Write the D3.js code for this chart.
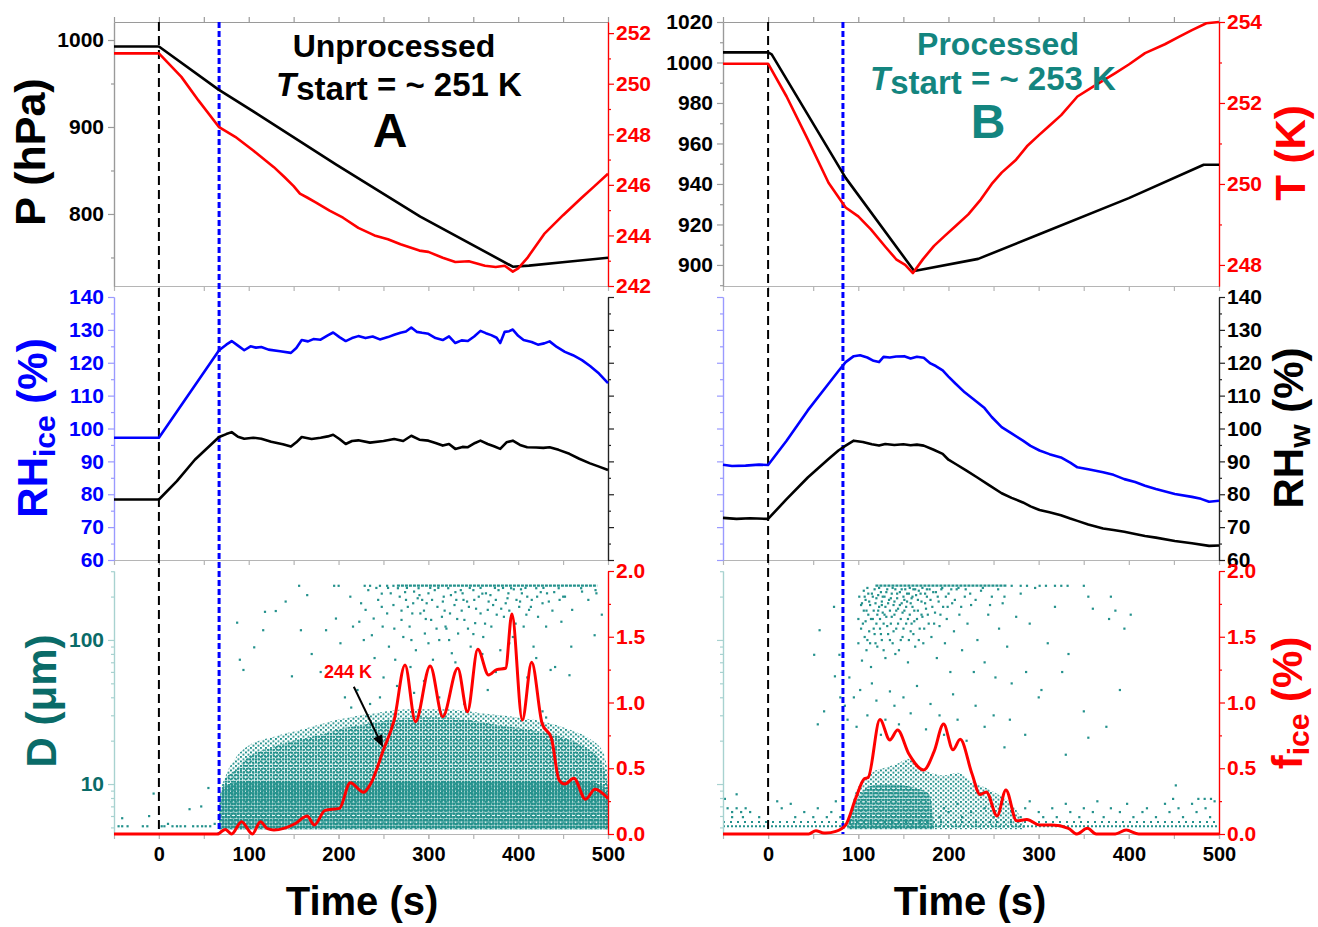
<!DOCTYPE html>
<html><head><meta charset="utf-8">
<script src="https://cdn.jsdelivr.net/npm/d3@7"></script>
<style>
body{margin:0;background:#fff}
svg{font-family:"Liberation Sans",Arial,sans-serif;font-weight:bold}
</style>
</head><body>
<svg id="c" width="1318" height="927"></svg>
<script>
// ---------------- DATA ----------------
const timeTicks=[-50,0,50,100,150,200,250,300,350,400,450,500];
const timeLabels=[0,100,200,300,400,500];
const pTicksA=[800,900,1000], pMinorA=[750,850,950];
const tTicksA=[242,244,246,248,250,252], tMinorA=[243,245,247,249,251];
const pTicksB=[900,920,940,960,980,1000,1020], pMinorB=[890,910,930,950,970,990,1010];
const tTicksB=[248,250,252,254], tMinorB=[249,251,253];
const rhTicks=[60,70,80,90,100,110,120,130,140], rhMinor=[65,75,85,95,105,115,125,135];
const dTicks=[10,100], dMinor=[5,6,7,8,9,20,30,40,50,60,70,80,90,200,300];
const fTicks=[0,0.5,1,1.5,2], fMinor=[0.25,0.75,1.25,1.75];

const startA=0, blueA=67, startB=0, blueB=83;

// Panel A (unprocessed)
const leftP=[[-50,992.5],[0,992.5],[66,943.3],[108.5,915.7],[197,857],[291,797],[394,739.4],[412,740.6],[455,745],[500,749.6]];
const leftT=[[-50,251.2],[0,251.2],[25,250.27],[44,249.34],[67,248.28],[85,247.9],[105,247.36],[128,246.7],[140,246.3],[150,245.95],[157,245.65],[165,245.5],[175,245.3],[190,244.98],[205,244.7],[222,244.3],[240,244.0],[255,243.85],[269,243.65],[290,243.4],[300,243.35],[316,243.12],[330,242.95],[345,242.98],[363,242.8],[375,242.75],[385,242.8],[394,242.57],[400,242.7],[410,243.1],[429,244.06],[450,244.8],[471,245.5],[485,245.95],[500,246.44]];
const leftRHice=[[-50,97.2],[0,97.2],[67,123.8],[75,125.5],[81,126.6],[88,125.2],[95,123.8],[102,125],[108,124.6],[114,124.8],[122,124],[135,123.5],[147,123],[153,124.5],[159,126.9],[166,126.5],[172,127.2],[180,127],[188,128.3],[194,129.2],[201,127.8],[208,126.6],[215,127.5],[222,128.1],[230,127.5],[238,128],[246,127.1],[255,127.8],[262,128.5],[269,129.1],[275,129.5],[281,130.7],[287,129.4],[293,129.1],[300,128.8],[308,127.5],[316,126.9],[323,128],[330,126],[337,126.8],[344,126.6],[351,128],[358,129.7],[364,129],[370,128.4],[376,127.6],[380,126],[385,129.4],[390,129.6],[394,130.1],[400,128.2],[406,126.9],[415,126.3],[422,125.5],[429,125.9],[435,126.5],[443,124.8],[452,123.3],[461,122.3],[471,120.8],[480,119],[490,116.7],[500,113.8]];
const leftRHw=[[-50,78.4],[0,78.4],[20,84],[40,90.5],[67,97.4],[75,98.3],[81,98.9],[88,97.5],[95,96.9],[105,97.2],[114,96.9],[125,96],[138,95.2],[147,94.5],[153,95.8],[159,97.4],[170,96.8],[180,97.2],[188,97.6],[194,98.1],[201,96.8],[208,95.3],[215,96.2],[222,96.4],[235,95.7],[250,96.2],[262,96.8],[272,96.2],[281,97.8],[290,96.6],[300,96.3],[308,95.6],[316,94.8],[323,95.3],[330,93.8],[338,94.4],[344,94.3],[352,95.6],[358,96.3],[366,95.3],[373,94.6],[380,93.8],[387,95.8],[394,96.3],[402,95],[410,94.3],[420,94.2],[428,94.1],[435,94.3],[445,93.5],[457,92.3],[468,90.8],[480,89.4],[490,88.4],[500,87.4]];
const leftF=[[-50,0],[66,0],[68,0.01],[74,0.035],[81,0],[92,0.094],[104,0],[113,0.094],[121,0.04],[128,0.03],[140,0.045],[152,0.08],[165,0.137],[173,0.068],[185,0.18],[201,0.195],[213,0.39],[228,0.317],[236,0.385],[250,0.64],[262,0.867],[274,1.285],[285.7,0.854],[302,1.278],[316,0.892],[332.7,1.26],[343.5,0.93],[355,1.404],[367,1.209],[376,1.25],[386,1.26],[393,1.673],[404.6,0.867],[415,1.306],[426.6,0.842],[437,0.728],[445.6,0.41],[452,0.38],[462,0.424],[475,0.264],[485.5,0.34],[500,0.27]];
// ice-particle size cloud (envelopes, D in um)
const leftDenseTop=[[67,5],[68,8.5],[78,10],[100,10.5],[470,10.5],[490,10],[500,8.5]];
const leftCloudTop=[[67,5],[68,8],[72,10.5],[85,12.5],[100,15.5],[120,17.5],[150,20],[180,22],[200,24],[230,26],[260,28],[290,29],[320,29],[350,27.5],[380,25.5],[410,24],[440,22],[460,20],[475,18],[490,15],[497,12],[500,9.5]];
const leftFringeTop=[[68,6],[72,10],[85,15],[100,18.5],[130,21.5],[160,24],[200,28],[240,31],[280,33],[320,33],[360,31],[400,29],[430,27],[460,23.5],[480,20.5],[495,16.5],[500,12]];
const leftTopRow=[[265,238],[488,238]];
const leftDots=[[156,238],[195,238],[200,238],[229,238],[235,238],[246,238],[254,238],[261,238],
[87,132],[90,73],[94,62],[106,89],[116,117],[118,157],[130,159],[141,185],[148,56],[158,117],[165,205],[170,80],[180,60],[186,117],[197,141],[202,95],[207,40],[213,200],[214,34],[216,124],[221,45],[223,134],[225,180],[230,162],[233,222],[235,36],[237,108],[239,141],[244,190],[246,40],[248,170],[249,124],[254,153],[256,90],[258,211],[261,175],[263,73],[266,229],[268,200],[270,138],[272,105],[275,190],[277,170],[279,124],[282,153],[284,217],[284,43],[286,85],[289,229],[291,153],[293,190],[296,111],[298,180],[300,211],[303,138],[305,73],[307,222],[310,170],[312,100],[312,40],[315,145],[317,200],[319,124],[322,229],[324,153],[326,81],[329,175],[331,190],[333,111],[336,222],[338,211],[340,138],[340,36],[343,185],[345,170],[347,90],[350,222],[352,131],[356,200],[358,153],[361,105],[364,211],[366,162],[366,45],[370,124],[372,175],[375,190],[378,222],[380,85],[384,145],[386,180],[389,211],[392,229],[394,105],[398,190],[401,170],[401,38],[404,211],[406,124],[410,200],[412,162],[417,90],[420,229],[422,145],[427,180],[427,32],[431,124],[431,29],[432,211],[436,62],[441,65],[445,229],[448,134],[450,200],[452,200],[457,57],[459,90],[460,162],[470,229],[471,217],[478,190],[485,108],[486,222],[487,211],[493,150],
[262,120],[274,215],[281,100],[288,195],[295,160],[302,230],[309,120],[316,185],[323,100],[330,215],[337,160],[344,120],[351,190],[358,230],[363,130],[369,205],[376,150],[383,230],[390,160],[397,130],[403,225],[409,150],[415,190],[425,215],[438,160],[446,190],
[270,160],[276,230],[283,180],[290,205],[297,140],[304,190],[311,230],[318,160],[325,205],[332,140],[339,190],[346,230],[353,165],[360,210],[367,185],[374,230],[381,165],[388,195],[395,225],[402,185],[408,230],[414,170],[421,200],[428,230],[434,185],[440,215],[255,230],[248,210],[242,230],[300,95],[330,70],[360,80],[390,95],[420,75],[350,110],[320,120],[280,65],[250,55],[265,48],[295,52],[375,60],[410,55],[240,75],[228,100],
[-45,5.1],[-41,5.8],[-41,5.1],[-35,5.1],[-18,5.1],[-13,5.1],[-11,6.0],[-6,8.6],[3,5.1],[6,5.1],[10,5.3],[15,5.1],[20,5.1],[24,5.1],[29,5.1],[34,6.7],[38,5.1],[43,5.1],[47,7.0],[48,5.1],[52,5.1],[55,9.4],[57,5.1],[62,5.3]];

// Panel B (processed)
const rightP=[[-50,1005],[0,1005],[4,1004],[86,943],[162,897],[233,903],[300,915],[400,933],[483,949.5],[500,949.5]];
const rightT=[[-50,252.97],[0,252.97],[20.5,252.16],[44,251.1],[67,250.03],[86,249.42],[100,249.2],[114,248.88],[130,248.45],[142,248.14],[152,248.0],[160.6,247.8],[172,248.15],[184,248.47],[195,248.7],[208,248.96],[222,249.25],[236,249.62],[248,250.0],[259,250.28],[275,250.6],[287,250.93],[300,251.2],[311,251.42],[325,251.7],[343,252.16],[360,252.4],[385,252.74],[400,252.95],[418,253.23],[440,253.45],[456,253.64],[470,253.8],[486,253.97],[500,254.0]];
const rightRHice=[[-50,89],[-40,88.6],[-25,88.7],[-10,89],[0,88.9],[20.5,96.3],[44,105.5],[67,113.6],[78,117.5],[86,120.2],[95,122],[102,122.3],[110,121.6],[117,120.6],[123,120.2],[128,121.8],[135,121.6],[142,121.9],[151,122],[158,121.3],[165,121.8],[172.6,121.5],[180,119.8],[186,119],[193.6,117.7],[200,115.8],[208,113.6],[218,111],[232,108],[240,106.2],[248,103.5],[259,100.4],[270,98.5],[282.6,96.3],[291,94.7],[301,93.3],[312,92.2],[324.7,91.2],[335,89.6],[343,88.2],[355,87.6],[371.5,86.7],[383,85.9],[395,84.6],[407,83.7],[418,82.6],[430,81.6],[451,80.1],[470,79.2],[480,78.6],[489,77.7],[500,78]];
const rightRHw=[[-50,72.8],[-35,72.5],[-20,72.7],[0,72.5],[20.5,78.5],[44,85.1],[67,90.7],[78,93.3],[86,94.8],[95,96.3],[105,95.9],[115,95.2],[123,94.8],[130,95.3],[140,95],[150,95.2],[158,94.9],[165,95.1],[172.6,94.8],[183,93.6],[193.6,92.3],[200,90.5],[208,89.2],[220,87.2],[232,85.1],[245,82.8],[259,80.3],[270,78.9],[282.6,77.5],[291,76.3],[301,75.2],[312,74.5],[324.7,73.6],[335,72.6],[343,71.9],[355,70.8],[371.5,69.6],[383,69.1],[395,68.6],[407,67.9],[418,67.3],[430,66.8],[451,65.8],[470,65.1],[489,64.3],[500,64.4]];
const rightF=[[-50,0],[45,0],[53,0.025],[60,0.01],[64,0.008],[75,0.02],[86,0.068],[97.6,0.28],[106.7,0.42],[111,0.43],[124,0.87],[135,0.715],[143.6,0.79],[156,0.61],[172.6,0.487],[184,0.626],[194.6,0.836],[205,0.64],[213,0.72],[226,0.46],[235,0.30],[242,0.32],[254,0.137],[263.7,0.335],[275.6,0.1],[287,0.11],[301,0.068],[314.7,0.068],[333,0.043],[342.5,0],[354,0.043],[363.8,0],[385,0],[397,0.03],[411,0],[500,0]];
const rightDenseTop=[[88,5],[92,6.5],[98,7.7],[105,8.8],[111,9.6],[130,10],[150,9.8],[168,9.2],[176,8.8],[180,8],[184,5]];
const rightFringeTop=[[90,5],[95,8],[105,10.5],[115,12],[130,13],[145,14],[155,15],[165,13.5],[180,12],[195,11.5],[210,12],[225,10.5],[240,9.5],[255,8.5],[268,7.5],[278,6.2],[285,5]];
const rightTopRow=[[119,238],[265,238]];
const rightLowRows=[[[-50,5.1],[500,5.1]],[[-50,5.45],[500,5.45]]];
const rightDots=[[270,238],[280,238],[287,238],[301,238],[308,238],[318,238],[325,238],[332,238],[350,238],
[100,140],[100,95],[101,200],[103,175],[103,120],[104,72],[106,220],[106,160],[107,105],[108,190],[108,135],[109,85],[111,150],[111,210],[112,115],[113,175],[113,95],[114,65],[116,200],[116,140],[117,160],[118,110],[118,225],[119,180],[120,130],[121,150],[121,90],[122,205],[123,170],[124,120],[124,140],[125,215],[126,185],[126,100],[127,155],[128,130],[129,200],[130,170],[130,75],[131,145],[132,225],[133,110],[134,190],[135,160],[136,130],[137,210],[138,95],[139,175],[140,150],[141,225],[142,120],[143,195],[144,165],[145,85],[146,215],[147,140],[148,180],[149,105],[150,200],[151,160],[152,225],[153,130],[154,185],[155,70],[156,210],[157,150],[158,115],[159,195],[160,170],[161,225],[162,135],[163,90],[164,205],[166,160],[167,220],[168,120],[170,185],[171,145],[172,95],[174,210],[175,165],[176,225],[178,130],[180,190],[181,105],[183,215],[185,155],[187,75],[188,200],[190,125],[192,225],[194,170],[196,95],[198,140],[200,210],[202,60],[204,180],[206,115],[209,225],[212,150],[215,85],[218,200],[221,130],[225,175],[228,60],[232,100],[236,220],[240,70],[244,150],[248,200],[252,55],[256,120],[260,180],[265,90],[270,50],[275,145],[280,210],[286,60],[290,130],[296,230],[303,45],[310,95],[318,170],[326,60],[333,80],[350,32],[355,200],[360,165],[378,140],[385,160],[390,45],[395,120],[402,150],[380,200],
[104,180],[105,130],[107,200],[109,160],[110,100],[110,230],[112,185],[114,140],[115,210],[117,120],[119,95],[120,195],[122,160],[123,230],[125,110],[126,175],[127,200],[128,85],[129,150],[131,215],[132,125],[133,180],[135,100],[136,195],[137,145],[138,230],[139,115],[140,185],[141,80],[142,160],[143,210],[144,130],[146,175],[147,100],[148,225],[149,155],[150,120],[151,190],[153,170],[154,210],[155,140],[156,100],[157,230],[158,180],[159,130],[160,200],[161,110],[162,160],[163,225],[165,140],[166,190],[167,100],[169,210],[170,150],[171,230],[173,120],[174,180],[176,200],[177,150],[179,225],[182,170],[184,130],[186,215],[189,185],[191,150],[193,230],[197,200],[199,170],[203,225],[207,190],[211,230],[214,170],[219,225],[224,210],[230,190],[238,230],[246,175],[255,225],[262,200],
[57,117],[51,79],[62,32],[55,26],[73,170],[79,79],[80,40],[74,56],
[85,35],[88,28],[90,55],[95,40],[98,25],[102,45],[110,30],[115,50],[120,38],[125,22],[130,28],[135,44],[140,35],[145,26],[150,40],[158,31],[165,48],[175,24],[180,36],[190,30],[195,22],[205,42],[210,28],[220,20],[230,35],[240,25],[250,30],[262,18],[268,28],[300,40],[285,22],[330,16],[355,21],[375,25],
[-45,6.8],[-40,6.4],[-35,6.8],[-30,6.4],[-25,6.8],[-20,6.4],[-10,5.9],[-40,5.9],[-28,5.9],[-48,7.9],[-35,8.5],[10,7.6],[15,6.8],[25,7.3],[30,5.9],[40,6.4],[50,5.9],[55,6.8],[65,5.9],[70,6.4],[75,7.6],[80,5.9],
[190,5.9],[195,6.8],[200,6.4],[210,7.3],[215,5.9],[225,6.4],[240,6.8],[250,5.9],[260,7.3],[270,6.4],[280,5.9],[285,6.8],[290,7.6],[300,6.4],[305,5.9],[315,6.8],[320,5.9],[330,7.3],[335,6.4],[345,5.9],[350,6.8],[360,6.4],[365,7.6],[372,5.9],[380,6.8],[390,6.4],[398,7.3],[405,5.9],[415,6.4],[420,6.8],[430,5.9],[440,7.3],[445,6.4],[455,6.8],[460,5.9],[470,7.3],[475,6.4],[485,6.8],[490,5.9],[495,7.6],[449,7.9],[477,7.9],[484,7.9],[491,7.9],[452,9.8]];

// ---------------- DRAW ----------------
const FONT='"Liberation Sans",Arial,sans-serif';
const TEAL='#23918c', DTEAL='#0a6b68', PTEAL='#13857f', RED='#ff0000', BLUE='#0000ff';
const svg=d3.select('#c');
const cols=[{x0:114,x1:608},{x0:723,x1:1219}];
const rows={top:[22,286],mid:[297,560],bot:[571,834]};
const defs=svg.append('defs');
function pat(id,w,h,rects){const p=defs.append('pattern').attr('id',id).attr('patternUnits','userSpaceOnUse').attr('width',w).attr('height',h);
  rects.forEach(r=>p.append('rect').attr('x',r[0]).attr('y',r[1]).attr('width',r[2]).attr('height',r[3]).attr('fill',TEAL));}
pat('pRows',3,3.4,[[0,0,2.7,2.2]]);
pat('pStip',3,3.2,[[0,0,2.2,2]]);
pat('pSparse',5,4.5,[[0,0,1.9,1.9],[2.5,2.25,1.9,1.9]]);

function styleAxis(g,lineColor,textColor,fs){
  g.select('.domain').attr('stroke',lineColor).attr('stroke-width',1.2);
  g.selectAll('.tick line').attr('stroke',lineColor).attr('stroke-width',1.2);
  g.selectAll('text').attr('fill',textColor).style('font-size',fs+'px').style('font-weight','bold').style('font-family',FONT);
}
function yAxis(x,scale,side,major,minor,lineColor,textColor,fmt){
  const A=side==='left'?d3.axisLeft:d3.axisRight;
  const g1=svg.append('g').attr('transform',`translate(${x},0)`).call(A(scale).tickValues(minor).tickSize(3).tickSizeOuter(0).tickFormat(''));
  styleAxis(g1,lineColor,textColor,21);
  const g2=svg.append('g').attr('transform',`translate(${x},0)`).call(A(scale).tickValues(major).tickSize(6).tickSizeOuter(0).tickPadding(side==='left'?4:2).tickFormat(fmt?fmt:''));
  styleAxis(g2,lineColor,textColor,21);
}
function xAxis(xs,y,labels){
  const g=svg.append('g').attr('transform',`translate(0,${y})`).call(d3.axisBottom(xs).tickValues(timeTicks).tickSize(5).tickSizeOuter(0).tickFormat(''));
  styleAxis(g,'#b5b5b5','#000',20);
  if(labels){
    const g2=svg.append('g').attr('transform',`translate(0,${y})`).call(d3.axisBottom(xs).tickValues(timeLabels).tickSize(5).tickSizeOuter(0).tickPadding(8).tickFormat(d3.format('d')));
    styleAxis(g2,'#b5b5b5','#000',20);
  }
}
function lineP(xs,ys,data,color,w,curve,dash){
  svg.append('path').datum(data).attr('fill','none').attr('stroke',color).attr('stroke-width',w).attr('stroke-linejoin','round')
   .attr('stroke-dasharray',dash||null)
   .attr('d',d3.line().x(d=>xs(d[0])).y(d=>ys(d[1])).curve(curve||d3.curveLinear));
}
function areaP(xs,ys,data,base,fill){
  svg.append('path').datum(data).attr('fill',fill).attr('stroke','none')
   .attr('d',d3.area().x(d=>xs(d[0])).y0(ys(base)).y1(d=>ys(d[1])).curve(d3.curveMonotoneX));
}
function dots(xs,ys,data){
  svg.append('g').selectAll('rect').data(data).join('rect')
   .attr('x',d=>xs(d[0])-1).attr('y',d=>ys(d[1])-1).attr('width',2.2).attr('height',2.2).attr('fill',TEAL);
}
function vline(xs,t,color,w,dash){
  svg.append('line').attr('x1',xs(t)).attr('x2',xs(t)).attr('y1',rows.top[0]).attr('y2',rows.bot[1])
   .attr('stroke',color).attr('stroke-width',w).attr('stroke-dasharray',dash);
}
function yTitle(x,y,parts,color){
  const t=svg.append('text').attr('transform',`translate(${x},${y}) rotate(-90)`).attr('text-anchor','middle').attr('fill',color)
   .style('font-family',FONT).style('font-weight','bold');
  parts.forEach(p=>t.append('tspan').text(p[0]).style('font-size',p[1]+'px').attr('dy',p[2]||0));
}
function txt(x,y,s,fs,color,style){
  return svg.append('text').attr('x',x).attr('y',y).attr('text-anchor','middle').attr('fill',color)
   .style('font-family',FONT).style('font-weight','bold').style('font-size',fs+'px').style('font-style',style||'normal').text(s);
}

const fmt1=d3.format('.1f'), fmtd=d3.format('d');

[0,1].forEach(c=>{
  const xs=d3.scaleLinear().domain([-50,500]).range([cols[c].x0,cols[c].x1]);
  const L=cols[c].x0, R=cols[c].x1;
  const yP=d3.scaleLinear().domain(c===0?[717.2,1020.7]:[889.6,1020]).range([rows.top[1],rows.top[0]]);
  const yT=d3.scaleLinear().domain(c===0?[242,252.44]:[247.48,254]).range([rows.top[1],rows.top[0]]);
  const yRH=d3.scaleLinear().domain([60,140]).range([rows.mid[1],rows.mid[0]]);
  const yD=d3.scaleLog().domain([4.5,301]).range([rows.bot[1],rows.bot[0]]);
  const yF=d3.scaleLinear().domain([0,2]).range([rows.bot[1],rows.bot[0]]);

  // --- bottom panel particles
  if(c===0){
    areaP(xs,yD,leftFringeTop,4.85,'url(#pSparse)');
    areaP(xs,yD,leftCloudTop,4.85,'url(#pStip)');
    areaP(xs,yD,leftDenseTop,4.85,'url(#pRows)');
    lineP(xs,yD,leftTopRow,TEAL,2.2,null,'3,1');
    dots(xs,yD,leftDots);
  } else {
    areaP(xs,yD,rightFringeTop,4.85,'url(#pSparse)');
    areaP(xs,yD,rightDenseTop,4.85,'url(#pRows)');
    rightLowRows.forEach((r,i)=>lineP(xs,yD,r,TEAL,2,null,i===0?'2,2':'2,5'));
    lineP(xs,yD,rightTopRow,TEAL,2.2,null,'3,1');
    dots(xs,yD,rightDots);
  }

  // --- axes
  const gTop=svg.append('g').attr('transform',`translate(0,${rows.top[0]})`).call(d3.axisTop(xs).tickValues(timeTicks).tickSize(5).tickSizeOuter(0).tickFormat(''));
  styleAxis(gTop,'#9a9a9a','#000',20);
  xAxis(xs,rows.top[1],false); xAxis(xs,rows.mid[1],false); xAxis(xs,rows.bot[1],true);

  if(c===0){
    yAxis(L,yP,'left',pTicksA,pMinorA,'#9a9a9a','#000',fmtd);
    yAxis(R,yT,'right',tTicksA,tMinorA,RED,RED,fmtd);
    yAxis(L,yRH,'left',rhTicks,rhMinor,'#9a9aff',BLUE,fmtd);
    yAxis(R,yRH,'right',rhTicks,rhMinor,'#222','#000',null);
    yAxis(L,yD,'left',dTicks,dMinor,'#a8d2d0',DTEAL,fmtd);
    yAxis(R,yF,'right',fTicks,fMinor,RED,RED,fmt1);
  } else {
    yAxis(L,yP,'left',pTicksB,pMinorB,'#9a9a9a','#000',fmtd);
    yAxis(R,yT,'right',tTicksB,tMinorB,RED,RED,fmtd);
    yAxis(L,yRH,'left',rhTicks,rhMinor,'#9a9aff',BLUE,null);
    yAxis(R,yRH,'right',rhTicks,rhMinor,'#222','#000',fmtd);
    yAxis(L,yD,'left',dTicks,dMinor,'#a8d2d0',DTEAL,null);
    yAxis(R,yF,'right',fTicks,fMinor,RED,RED,fmt1);
  }

  // --- vertical markers
  vline(xs,c===0?startA:startB,'#000',2,'9,5');
  vline(xs,c===0?blueA:blueB,BLUE,3,'6,3');

  // --- curves
  lineP(xs,yP,c===0?leftP:rightP,'#000',2.6);
  lineP(xs,yT,c===0?leftT:rightT,RED,2.6);
  lineP(xs,yRH,c===0?leftRHw:rightRHw,'#000',2.6);
  lineP(xs,yRH,c===0?leftRHice:rightRHice,BLUE,2.6);
  lineP(xs,yF,c===0?leftF:rightF,RED,3,d3.curveMonotoneX);

  if(c===0){
    txt(xs(210.5),yF(1.186),'244 K',18,RED);
    const x1=xs(217),y1=yF(1.12),x2=xs(249.5),y2=yF(0.66);
    const ang=Math.atan2(y2-y1,x2-x1), hl=12, hw=5;
    svg.append('line').attr('x1',x1).attr('y1',y1).attr('x2',x2-hl*0.8*Math.cos(ang)).attr('y2',y2-hl*0.8*Math.sin(ang)).attr('stroke','#000').attr('stroke-width',2);
    const bx=x2-hl*Math.cos(ang), by=y2-hl*Math.sin(ang);
    svg.append('path').attr('fill','#000').attr('d',`M${x2},${y2}L${bx+hw*Math.sin(ang)},${by-hw*Math.cos(ang)}L${bx-hw*Math.sin(ang)},${by+hw*Math.cos(ang)}Z`);
  }
});

// --- axis titles
yTitle(45,152,[['P (hPa)',43]],'#000');
yTitle(47,428,[['RH',42],['ice',30,8],[' (%)',42,-8]],BLUE);
yTitle(56,701,[['D (\u03bcm)',42]],DTEAL);
yTitle(1305,153,[['T (K)',42]],RED);
yTitle(1303,428,[['RH',42],['w',30,7],[' (%)',42,-7]],'#000');
yTitle(1302,703,[['f',42],['ice',30,7],[' (%)',42,-7]],RED);
txt(362,915,'Time (s)',40,'#000');
txt(970,915,'Time (s)',40,'#000');

// --- panel annotations
txt(394,57,'Unprocessed',32,'#000');
(function(){const t=txt(399,96,'',33,'#000');
  t.append('tspan').text('T').style('font-style','italic');
  t.append('tspan').text('start').attr('dy',4);
  t.append('tspan').text(' = ~ 251 K').attr('dy',-4);})();
txt(390,147,'A',48,'#000');
txt(998,55,'Processed',32,PTEAL);
(function(){const t=txt(993,90,'',33,PTEAL);
  t.append('tspan').text('T').style('font-style','italic');
  t.append('tspan').text('start').attr('dy',4);
  t.append('tspan').text(' = ~ 253 K').attr('dy',-4);})();
txt(988,138,'B',48,PTEAL);
</script>
</body></html>
